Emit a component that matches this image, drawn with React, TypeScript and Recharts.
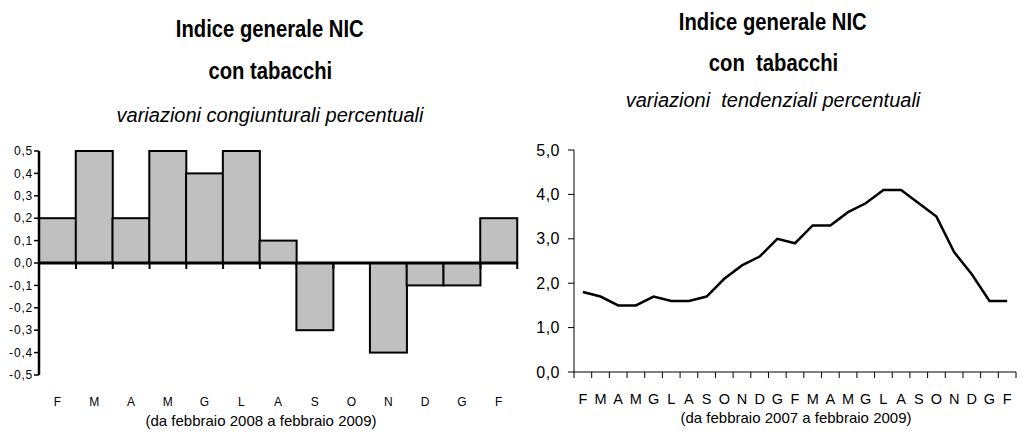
import React from "react";
import {
  BarChart, Bar, LineChart, Line, XAxis, YAxis, ReferenceLine,
} from "recharts";

// ─── Data ─────────────────────────────────────────────────────────────────────

const MONTHS_CONG = ["F", "M", "A", "M", "G", "L", "A", "S", "O", "N", "D", "G", "F"];
const VALUES_CONG = [0.2, 0.5, 0.2, 0.5, 0.4, 0.5, 0.1, -0.3, 0.0, -0.4, -0.1, -0.1, 0.2];
const TICKS_CONG = [-0.5, -0.4, -0.3, -0.2, -0.1, 0, 0.1, 0.2, 0.3, 0.4, 0.5];

const MONTHS_TEND = [
  "F", "M", "A", "M", "G", "L", "A", "S", "O", "N", "D", "G",
  "F", "M", "A", "M", "G", "L", "A", "S", "O", "N", "D", "G", "F",
];
const VALUES_TEND = [
  1.8, 1.7, 1.5, 1.5, 1.7, 1.6, 1.6, 1.7, 2.1, 2.4, 2.6, 3.0,
  2.9, 3.3, 3.3, 3.6, 3.8, 4.1, 4.1, 3.8, 3.5, 2.7, 2.2, 1.6, 1.6,
];
const TICKS_TEND = [0, 1, 2, 3, 4, 5];

// ─── Helpers ──────────────────────────────────────────────────────────────────

const comma = (v: number) => v.toFixed(1).replace(".", ",").replace("-0,0", "0,0");

const SANS = "'Liberation Sans', Arial, sans-serif";

const congData = MONTHS_CONG.map((m, i) => ({ m, v: VALUES_CONG[i] }));
const tendData = MONTHS_TEND.map((m, i) => ({ x: i + 0.5, m, v: VALUES_TEND[i] }));
const tendTicks: number[] = [];
for (let i = 0; i <= MONTHS_TEND.length * 2; i++) tendTicks.push(i / 2);

// bar + tick mark on the zero line at the right edge of the category
function CongBar(props: any) {
  const { x, y, width, height, payload } = props;
  const top = Math.min(y, y + height);
  const h = Math.abs(height);
  const zeroY = payload.v >= 0 ? top + h : top;
  return (
    <g>
      {h > 0 && (
        <rect x={x} y={top} width={width} height={h} fill="#c0c0c0" stroke="#000" strokeWidth={2} />
      )}
      <line x1={x + width} x2={x + width} y1={zeroY} y2={zeroY + 6} stroke="#000" strokeWidth={2} />
    </g>
  );
}

function CongTick(props: any) {
  const { x, y, payload } = props;
  return (
    <text x={x} y={y + 27} textAnchor="middle" dominantBaseline="central"
      fontFamily={SANS} fontSize={12} fill="#000">
      {payload.value}
    </text>
  );
}

function TendTick(props: any) {
  const { x, y, payload } = props;
  const v = payload.value as number;
  if (Number.isInteger(v)) {
    return <line x1={x} x2={x} y1={y} y2={y + 6} stroke="#000" strokeWidth={1} />;
  }
  return (
    <text x={x} y={y + 27} textAnchor="middle" dominantBaseline="central"
      fontFamily={SANS} fontSize={14.5} fill="#000">
      {MONTHS_TEND[Math.floor(v)]}
    </text>
  );
}

// ─── Titles ───────────────────────────────────────────────────────────────────

function Titles({ left, width, tops, sub, second }: {
  left: number; width: number; tops: number[]; sub: string; second: string;
}) {
  const base: React.CSSProperties = {
    position: "absolute", left, width, textAlign: "center",
    whiteSpace: "pre", lineHeight: "1", color: "#000", fontFamily: SANS,
  };
  const narrow: React.CSSProperties = { display: "inline-block", transform: "scaleX(0.88)" };
  return (
    <>
      <div style={{ ...base, top: tops[0], fontWeight: 700, fontSize: 23 }}>
        <span style={narrow}>Indice generale NIC</span>
      </div>
      <div style={{ ...base, top: tops[1], fontWeight: 700, fontSize: 23 }}>
        <span style={narrow}>{second}</span>
      </div>
      <div style={{ ...base, top: tops[2], fontStyle: "italic", fontSize: 20 }}>
        {sub}
      </div>
    </>
  );
}

// ─── App ──────────────────────────────────────────────────────────────────────

export default function App() {
  return (
    <div style={{ position: "absolute", left: 0, top: 0, width: 1022, height: 439, background: "#fff", overflow: "hidden" }}>
      <Titles left={0} width={540} tops={[18, 60, 105]} second="con tabacchi"
        sub="variazioni congiunturali percentuali" />
      <Titles left={560} width={426} tops={[11, 52, 90]} second="con  tabacchi"
        sub="variazioni  tendenziali percentuali" />

      {/* left: monthly changes */}
      <div style={{ position: "absolute", left: 0, top: 0 }}>
        <BarChart width={530} height={439} data={congData} barCategoryGap={0} barGap={0}
          margin={{ top: 151, right: 13, bottom: 0, left: 4 }}>
          <XAxis dataKey="m" axisLine={false} tickLine={false} tickSize={0} tickMargin={0}
            height={64} interval={0} tick={<CongTick />} />
          <YAxis domain={[-0.5, 0.5]} ticks={TICKS_CONG} width={35} interval={0}
            tickFormatter={comma} axisLine={{ stroke: "#000", strokeWidth: 2.5 }}
            tickLine={{ stroke: "#000", strokeWidth: 1.5 }} tickSize={5} tickMargin={1}
            tick={{ fontFamily: SANS, fontSize: 12, fill: "#000", letterSpacing: 0.8 }} />
          <Bar dataKey="v" isAnimationActive={false} shape={<CongBar />} />
          <ReferenceLine y={0} stroke="#000" strokeWidth={3} />
        </BarChart>
      </div>
      <div style={{ position: "absolute", left: 0, width: 522, top: 413, textAlign: "center",
        fontFamily: SANS, fontSize: 15, lineHeight: "1", whiteSpace: "pre" }}>
        (da febbraio 2008 a febbraio 2009)
      </div>

      {/* right: yearly changes */}
      <div style={{ position: "absolute", left: 520, top: 0 }}>
        <LineChart width={502} height={439} data={tendData}
          margin={{ top: 150, right: 6, bottom: 0, left: 0 }}>
          <XAxis dataKey="x" type="number" domain={[0, MONTHS_TEND.length]} ticks={tendTicks}
            interval={0} allowDecimals axisLine={{ stroke: "#000", strokeWidth: 1 }}
            tickLine={false} tickSize={0} tickMargin={0} height={67} tick={<TendTick />} />
          <YAxis domain={[0, 5]} ticks={TICKS_TEND} width={54} interval={0}
            tickFormatter={comma} axisLine={{ stroke: "#000", strokeWidth: 1 }}
            tickLine={{ stroke: "#000" }} tickSize={6} tickMargin={8}
            tick={{ fontFamily: SANS, fontSize: 16, fill: "#000", letterSpacing: 0.5 }} />
          <Line type="linear" dataKey="v" stroke="#000" strokeWidth={2.5} dot={false}
            isAnimationActive={false} />
        </LineChart>
      </div>
      <div style={{ position: "absolute", left: 680, width: 232, top: 410, textAlign: "center",
        fontFamily: SANS, fontSize: 15, lineHeight: "1", whiteSpace: "pre" }}>
        (da febbraio 2007 a febbraio 2009)
      </div>
    </div>
  );
}
